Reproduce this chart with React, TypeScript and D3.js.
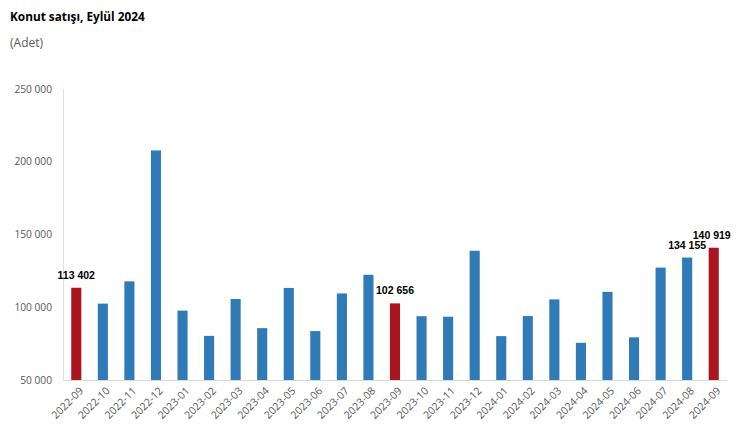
import { useEffect, useRef } from 'react';
import * as d3 from 'd3';

const months = [
  '2022-09', '2022-10', '2022-11', '2022-12', '2023-01', '2023-02', '2023-03', '2023-04',
  '2023-05', '2023-06', '2023-07', '2023-08', '2023-09', '2023-10', '2023-11', '2023-12',
  '2024-01', '2024-02', '2024-03', '2024-04', '2024-05', '2024-06', '2024-07', '2024-08', '2024-09',
];
const sales = [
  113402, 102485, 117800, 207763, 97686, 80330, 105637, 85652,
  113276, 83619, 109480, 122313, 102656, 93846, 93497, 138828,
  80147, 93949, 105394, 75569, 110588, 79313, 127248, 134155, 140919,
];
const highlighted = ['2022-09', '2023-09', '2024-09'];
const labelled = ['2022-09', '2023-09', '2024-08', '2024-09'];
const yTicks = [50000, 100000, 150000, 200000, 250000];

const W = 740;
const H = 445;
const margin = { left: 63, right: 13, top: 89, bottom: 65 };

const fmt = (v: number) => d3.format(',')(v).replace(/,/g, ' ');

export default function App() {
  const svgRef = useRef<SVGSVGElement>(null);

  useEffect(() => {
    if (!svgRef.current) return;
    const svg = d3.select(svgRef.current);
    svg.selectAll('*').remove();

    const x = d3.scaleBand<string>()
      .domain(months)
      .range([margin.left, W - margin.right])
      .paddingInner(0.62)
      .paddingOuter(0.31);

    const y = d3.scaleLinear()
      .domain([50000, 250000])
      .range([H - margin.bottom, margin.top]);

    // title
    svg.append('text')
      .attr('x', 10).attr('y', 21)
      .attr('font-family', 'Open Sans, sans-serif')
      .attr('font-size', 11.8).attr('font-weight', 700)
      .attr('fill', '#000')
      .text('Konut satışı, Eylül 2024');
    svg.append('text')
      .attr('x', 10).attr('y', 47)
      .attr('font-family', 'Open Sans, sans-serif')
      .attr('font-size', 12).attr('fill', '#595959')
      .text('(Adet)');

    // y axis labels
    svg.append('g')
      .selectAll('text')
      .data(yTicks)
      .enter()
      .append('text')
      .attr('x', 52)
      .attr('y', d => y(d))
      .attr('dy', '0.35em')
      .attr('text-anchor', 'end')
      .attr('font-family', 'Open Sans, sans-serif')
      .attr('font-size', 10.2)
      .attr('fill', '#595959')
      .text(d => fmt(d));

    // axis lines
    svg.append('line')
      .attr('x1', margin.left + 0.5).attr('x2', margin.left + 0.5)
      .attr('y1', margin.top).attr('y2', y(50000))
      .attr('stroke', '#e0e0e0');
    svg.append('line')
      .attr('x1', margin.left).attr('x2', W - margin.right)
      .attr('y1', y(50000) + 0.5).attr('y2', y(50000) + 0.5)
      .attr('stroke', '#d9d9d9');

    const data = months.map((m, i) => ({ m, v: sales[i] }));

    // bars
    svg.append('g')
      .selectAll('rect')
      .data(data)
      .enter()
      .append('rect')
      .attr('x', d => x(d.m)!)
      .attr('width', x.bandwidth())
      .attr('y', d => y(d.v))
      .attr('height', d => y(50000) - y(d.v))
      .attr('fill', d => highlighted.includes(d.m) ? '#ab1520' : '#2f7bb8');

    // value labels
    svg.append('g')
      .selectAll('text')
      .data(data.filter(d => labelled.includes(d.m)))
      .enter()
      .append('text')
      .attr('x', d => x(d.m)! + x.bandwidth() / 2 - (d.m === '2024-09' ? 2 : 0))
      .attr('y', d => y(d.v) - 9)
      .attr('text-anchor', 'middle')
      .attr('font-family', '"Liberation Sans Narrow", "Arial Narrow", "Liberation Sans", sans-serif')
      .attr('font-size', 10.5)
      .attr('font-weight', 700)
      .attr('fill', '#000')
      .text(d => fmt(d.v));

    // x labels
    svg.append('g')
      .selectAll('text')
      .data(months)
      .enter()
      .append('text')
      .attr('transform', d => `translate(${x(d)! + x.bandwidth() / 2 + 5},${y(50000) + 9}) rotate(-45)`)
      .attr('text-anchor', 'end')
      .attr('dy', '0.35em')
      .attr('font-family', 'Open Sans, sans-serif')
      .attr('font-size', 10.5)
      .attr('fill', '#595959')
      .text(d => d);
  }, []);

  return (
    <svg
      ref={svgRef}
      width={W}
      height={H}
      style={{ position: 'absolute', left: 0, top: 0, background: '#fff' }}
    />
  );
}
